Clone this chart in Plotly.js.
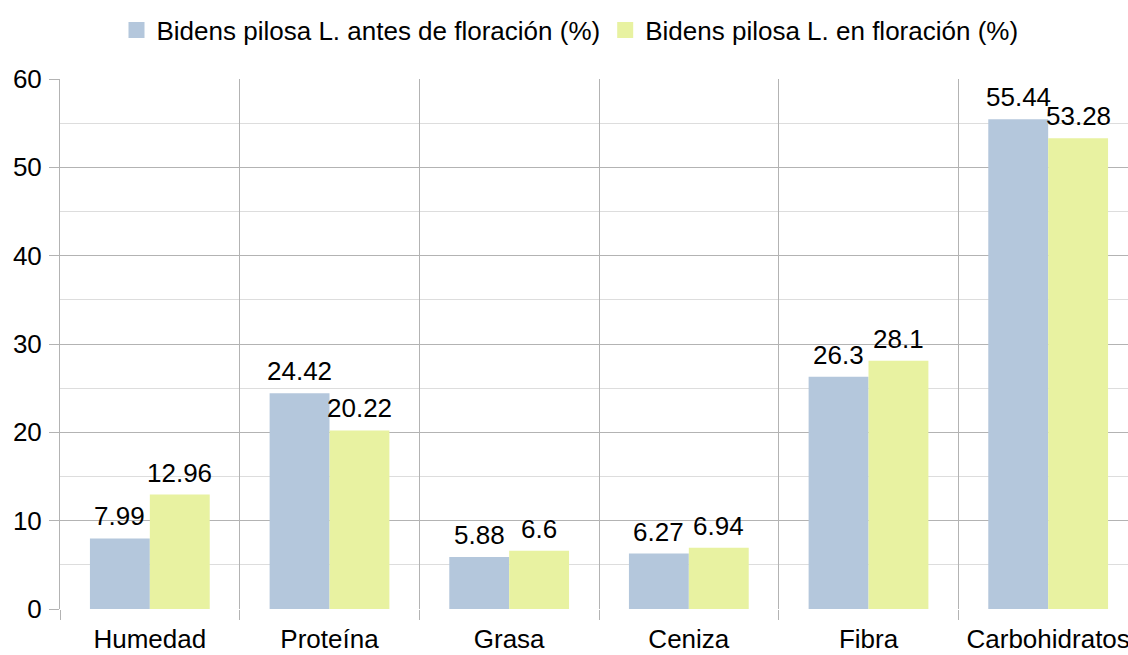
<!DOCTYPE html>
<html>
<head>
<meta charset="utf-8">
<script src="https://cdn.plot.ly/plotly-3.0.1.min.js"></script>
<style>
  html, body { margin: 0; padding: 0; overflow: hidden; background: #fff; }
  #chart { width: 1140px; height: 655px; }
</style>
</head>
<body>
<div id="chart"></div>
<script>
const categories = ["Humedad", "Proteína", "Grasa", "Ceniza", "Fibra", "Carbohidratos"];
const antesValues = [7.99, 24.42, 5.88, 6.27, 26.3, 55.44];
const enValues = [12.96, 20.22, 6.6, 6.94, 28.1, 53.28];
const seriesNames = ["Bidens pilosa L. antes de floración (%)", "Bidens pilosa L. en floración (%)"];
const yTicks = [0, 10, 20, 30, 40, 50, 60];

const FONT = "Liberation Sans, Arial, sans-serif";
const FS = 26;
const colors = ["#b4c7dc", "#e8f2a1"];

const traces = [
  { type: "bar", name: seriesNames[0], x: categories, y: antesValues, marker: { color: colors[0] }, showlegend: false },
  { type: "bar", name: seriesNames[1], x: categories, y: enValues, marker: { color: colors[1] }, showlegend: false },
  { type: "scatter", mode: "markers", name: seriesNames[0], x: [null], y: [null],
    marker: { symbol: "square", size: 16, color: colors[0] }, showlegend: true, hoverinfo: "skip" },
  { type: "scatter", mode: "markers", name: seriesNames[1], x: [null], y: [null],
    marker: { symbol: "square", size: 16, color: colors[1] }, showlegend: true, hoverinfo: "skip" }
];

const annotations = [];
[antesValues, enValues].forEach((vals, s) => {
  vals.forEach((v, i) => {
    annotations.push({
      x: i + (s === 0 ? -1/6 : 1/6), y: v, xref: "x", yref: "y",
      text: String(v), showarrow: false, yanchor: "bottom", yshift: 5,
      font: { family: FONT, size: FS, color: "#000" }
    });
  });
});

const layout = {
  width: 1140, height: 655,
  margin: { l: 60, r: 2, t: 79, b: 46 },
  paper_bgcolor: "#fff", plot_bgcolor: "#fff",
  font: { family: FONT, size: FS, color: "#000" },
  barmode: "group", bargap: 1/3, bargroupgap: 0,
  showlegend: true,
  legend: {
    orientation: "h", x: (570 - 60) / 1078, xanchor: "center",
    y: 1 + (79 - 30) / 530, yanchor: "middle",
    font: { family: FONT, size: FS, color: "#000" },
    itemclick: false, itemdoubleclick: false
  },
  xaxis: {
    type: "category", categoryorder: "array", categoryarray: categories,
    tickson: "boundaries", showgrid: true, gridcolor: "#b3b3b3", gridwidth: 1,
    ticks: "outside", ticklen: 10, tickcolor: "#b3b3b3", showline: false, zeroline: false,
    ticklabelstandoff: 12,
    tickfont: { family: FONT, size: FS, color: "#000" }
  },
  yaxis: {
    range: [0, 60], tickvals: yTicks, showgrid: true, gridcolor: "#b3b3b3", gridwidth: 1,
    ticks: "outside", ticklen: 10, tickcolor: "#b3b3b3", zeroline: false,
    showline: true, linecolor: "#b3b3b3", linewidth: 1,
    ticklabelstandoff: 2,
    minor: { dtick: 5, showgrid: true, gridcolor: "#dddddd", ticks: "" },
    tickfont: { family: FONT, size: FS, color: "#000" }
  },
  annotations: annotations
};

Plotly.newPlot("chart", traces, layout, { displayModeBar: false, staticPlot: true });
</script>
</body>
</html>
